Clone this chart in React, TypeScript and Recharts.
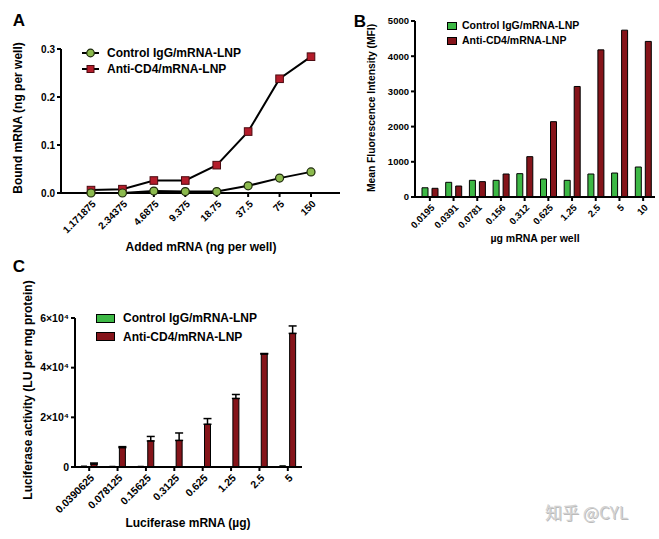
import React from "react";
import {
  LineChart,
  Line,
  BarChart,
  Bar,
  XAxis,
  YAxis,
  ErrorBar,
} from "recharts";

// Panel A - binding
const bindingDoses = ["1.171875", "2.34375", "4.6875", "9.375", "18.75", "37.5", "75", "150"];
const bindingControl = [0.0, 0.0, 0.004, 0.003, 0.003, 0.015, 0.031, 0.044];
const bindingAntiCD4 = [0.006, 0.008, 0.026, 0.026, 0.058, 0.128, 0.238, 0.284];
const bindingTicks = [0, 0.1, 0.2, 0.3];

// Panel B - MFI
const mfiDoses = ["0.0195", "0.0391", "0.0781", "0.156", "0.312", "0.625", "1.25", "2.5", "5", "10"];
const mfiControl = [262, 417, 474, 474, 663, 511, 474, 653, 681, 852];
const mfiAntiCD4 = [247, 312, 436, 653, 1146, 2140, 3140, 4180, 4740, 4420];
const mfiTicks = [0, 1000, 2000, 3000, 4000, 5000];

// Panel C - luciferase
const lucDoses = ["0.0390625", "0.078125", "0.15625", "0.3125", "0.625", "1.25", "2.5", "5"];
const lucControl = [400, 300, 300, 200, 200, 100, 60, 500];
const lucAntiCD4 = [1200, 7800, 10500, 10700, 17200, 27600, 45500, 53800];
const lucAntiCD4Err = [400, 400, 1800, 3000, 2300, 1600, 200, 3000];
const lucTicks = [0, 20000, 40000, 60000];

const seriesNames = ["Control IgG/mRNA-LNP", "Anti-CD4/mRNA-LNP"];

const FONT = '"Liberation Sans", Arial, Helvetica, sans-serif';
const GREEN_BAR = "#3db845";
const RED_BAR = "#85141a";
const GREEN_DOT = "#8cba4e";
const RED_DOT = "#b41c2a";

const bindingData = bindingDoses.map((d, i) => ({
  dose: d,
  control: bindingControl[i],
  anti: bindingAntiCD4[i],
}));
const mfiData = mfiDoses.map((d, i) => ({
  dose: d,
  control: mfiControl[i],
  anti: mfiAntiCD4[i],
}));
const lucData = lucDoses.map((d, i) => ({
  dose: d,
  control: lucControl[i],
  anti: lucAntiCD4[i],
  err: [0, lucAntiCD4Err[i]],
}));

const axisProps = {
  stroke: "#000",
  strokeWidth: 2,
  tickSize: 4,
};

const RotTick = (props: any) => {
  const { x, y, payload, fontSize } = props;
  return (
    <g transform={`translate(${x + 3},${y + 3})`}>
      <text
        x={0}
        y={0}
        dy="0.35em"
        textAnchor="end"
        transform="rotate(-45)"
        fontSize={fontSize}
        fontWeight="bold"
        fontFamily={FONT}
        fill="#000"
      >
        {payload.value}
      </text>
    </g>
  );
};

const CircleDot = (props: any) => {
  const { cx, cy } = props;
  if (cx == null || cy == null) return null;
  return <circle cx={cx} cy={cy} r={4} fill={GREEN_DOT} stroke="#1e2a0c" strokeWidth={1.2} />;
};

const SquareDot = (props: any) => {
  const { cx, cy } = props;
  if (cx == null || cy == null) return null;
  return <rect x={cx - 3.8} y={cy - 3.8} width={7.6} height={7.6} fill={RED_DOT} stroke="#4a0a10" strokeWidth={1} />;
};

const Title = ({ x, y, size, rotate, children }: any) => (
  <div
    style={{
      position: "absolute",
      left: x,
      top: y,
      transform: `translate(-50%,-50%)${rotate ? " rotate(-90deg)" : ""}`,
      whiteSpace: "nowrap",
      fontSize: size,
      fontWeight: "bold",
      fontFamily: FONT,
      color: "#000",
      lineHeight: 1,
    }}
  >
    {children}
  </div>
);

const LineLegend = ({ left, top, gap, size }: any) => (
  <div style={{ position: "absolute", left, top }}>
    {seriesNames.map((name, i) => (
      <div key={name} style={{ display: "flex", alignItems: "center", height: gap }}>
        <svg width={20} height={10} style={{ marginRight: 6 }}>
          <line x1={1} y1={5} x2={18} y2={5} stroke="#000" strokeWidth={2} />
          {i === 0 ? (
            <circle cx={9.5} cy={5} r={3.8} fill={GREEN_DOT} stroke="#1e2a0c" strokeWidth={1.2} />
          ) : (
            <rect x={6} y={1.5} width={7} height={7} fill={RED_DOT} stroke="#4a0a10" />
          )}
        </svg>
        <span style={{ fontSize: size, fontWeight: "bold", fontFamily: FONT, lineHeight: 1 }}>{name}</span>
      </div>
    ))}
  </div>
);

const BarLegend = ({ left, top, gap, size, sw, sh, space }: any) => (
  <div style={{ position: "absolute", left, top }}>
    {seriesNames.map((name, i) => (
      <div key={name} style={{ display: "flex", alignItems: "center", height: gap }}>
        <div
          style={{
            width: sw,
            height: sh,
            background: i === 0 ? GREEN_BAR : RED_BAR,
            border: "1px solid #000",
            marginRight: space,
          }}
        />
        <span style={{ fontSize: size, fontWeight: "bold", fontFamily: FONT, lineHeight: 1 }}>{name}</span>
      </div>
    ))}
  </div>
);

const lucFormat = (v: number) => (v === 0 ? "0" : `${v / 10000}×10⁴`);

export default function App() {
  const tickStyle = (fs: number) => ({
    fontSize: fs,
    fontWeight: "bold" as const,
    fontFamily: FONT,
    fill: "#000",
  });
  return (
    <div
      style={{
        position: "absolute",
        left: 0,
        top: 0,
        width: 659,
        height: 539,
        background: "#fff",
        overflow: "hidden",
        fontFamily: FONT,
      }}
    >
      {/* Panel A */}
      <div style={{ position: "absolute", left: 0, top: 0 }}>
        <LineChart width={345} height={260} data={bindingData} margin={{ top: 49, right: 5, bottom: 0, left: 0 }}>
          <XAxis
            dataKey="dose"
            scale="point"
            padding={{ left: 30, right: 29 }}
            height={67}
            interval={0}
            tick={<RotTick fontSize={10} />}
            {...axisProps}
          />
          <YAxis
            width={61}
            domain={[0, 0.3]}
            ticks={bindingTicks}
            tickFormatter={(v: number) => v.toFixed(1)}
            tick={tickStyle(10)}
            {...axisProps}
          />
          <Line
            dataKey="anti"
            type="linear"
            stroke="#000"
            strokeWidth={2}
            dot={<SquareDot />}
            isAnimationActive={false}
          />
          <Line
            dataKey="control"
            type="linear"
            stroke="#000"
            strokeWidth={2}
            dot={<CircleDot />}
            isAnimationActive={false}
          />
        </LineChart>
      </div>

      {/* Panel B */}
      <div style={{ position: "absolute", left: 340, top: 0 }}>
        <BarChart
          width={319}
          height={260}
          data={mfiData}
          margin={{ top: 21, right: 4, bottom: 0, left: 0 }}
          barCategoryGap={4}
          barGap={4}
        >
          <XAxis
            dataKey="dose"
            padding={{ left: 3, right: 0 }}
            height={63}
            interval={0}
            tick={<RotTick fontSize={9.5} />}
            {...axisProps}
          />
          <YAxis width={75} domain={[0, 5000]} ticks={mfiTicks} tick={tickStyle(9.5)} {...axisProps} />
          <Bar dataKey="control" fill={GREEN_BAR} stroke="#000" strokeWidth={1} isAnimationActive={false} />
          <Bar dataKey="anti" fill={RED_BAR} stroke="#000" strokeWidth={1} isAnimationActive={false} />
        </BarChart>
      </div>

      {/* Panel C */}
      <div style={{ position: "absolute", left: 0, top: 255 }}>
        <BarChart
          width={340}
          height={284}
          data={lucData}
          margin={{ top: 63, right: 38, bottom: 0, left: 0 }}
          barCategoryGap={6}
          barGap={4}
        >
          <XAxis
            dataKey="dose"
            height={72}
            interval={0}
            tick={<RotTick fontSize={10.5} />}
            {...axisProps}
          />
          <YAxis
            width={75}
            domain={[0, 60000]}
            ticks={lucTicks}
            tickFormatter={lucFormat}
            tick={tickStyle(10.5)}
            {...axisProps}
          />
          <Bar dataKey="control" fill={GREEN_BAR} stroke="#000" strokeWidth={1} isAnimationActive={false} />
          <Bar dataKey="anti" fill={RED_BAR} stroke="#000" strokeWidth={1} isAnimationActive={false}>
            <ErrorBar dataKey="err" width={4} stroke="#000" strokeWidth={1.5} direction="y" />
          </Bar>
        </BarChart>
      </div>

      {/* panel letters */}
      <Title x={19} y={20} size={17}>A</Title>
      <Title x={360} y={21} size={17}>B</Title>
      <Title x={19} y={266} size={17}>C</Title>

      {/* axis titles */}
      <Title x={18} y={118} size={12} rotate>Bound mRNA (ng per well)</Title>
      <Title x={201} y={247} size={12}>Added mRNA (ng per well)</Title>
      <Title x={372} y={108} size={10.3} rotate>Mean Fluorescence Intensity (MFI)</Title>
      <Title x={535} y={238} size={10.5}>µg mRNA per well</Title>
      <Title x={28} y={390} size={12} rotate>Luciferase activity (LU per mg protein)</Title>
      <Title x={188} y={523} size={12}>Luciferase mRNA (µg)</Title>

      {/* legends */}
      <LineLegend left={81} top={45} gap={16} size={12} />
      <BarLegend left={447} top={18} gap={15} size={10.5} sw={8} sh={6} space={5} />
      <BarLegend left={96} top={309} gap={18.5} size={12} sw={17} sh={7} space={8} />

      {/* watermark */}
      <div
        style={{
          position: "absolute",
          left: 545,
          top: 499,
          fontSize: 17,
          fontFamily: '"Noto Sans CJK SC", "Noto Sans", sans-serif',
          color: "#d2d2d2",
          textShadow: "1px 1px 0 #bbb",
          whiteSpace: "nowrap",
        }}
      >
        知乎 @CYL
      </div>
    </div>
  );
}
